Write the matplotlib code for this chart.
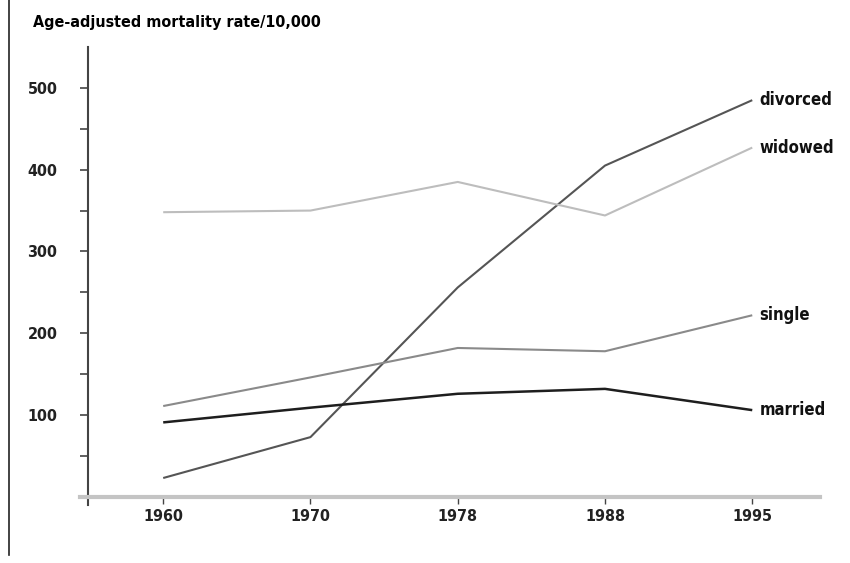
import matplotlib.pyplot as plt
from matplotlib.lines import Line2D

# Data
years = ["1960", "1970", "1978", "1988", "1995"]
divorced = [23, 73, 256, 405, 485]
widowed = [348, 350, 385, 344, 427]
single = [111, 146, 182, 178, 222]
married = [91, 109, 126, 132, 106]

series = [
    ("divorced", divorced, "#555555", 1.5),
    ("widowed", widowed, "#bdbdbd", 1.5),
    ("single", single, "#8a8a8a", 1.5),
    ("married", married, "#1e1e1e", 1.8),
]

plt.rcParams["font.family"] = ["Liberation Sans Narrow", "DejaVu Sans"]
plt.rcParams["font.stretch"] = "condensed"

fig = plt.figure(figsize=(8.5, 5.63), dpi=100)
ax = fig.add_axes([80 / 850, 1 - 505 / 563, 740 / 850, 458 / 563])

x = list(range(len(years)))
for name, vals, color, lw in series:
    ax.plot(x, vals, color=color, linewidth=lw, solid_capstyle="butt")
    ax.text(x[-1] + 0.05, vals[-1], name, fontsize=12, fontweight="bold",
            va="center", ha="left", color="#111111")

ax.set_xlim(-0.565, 4.46)
ax.set_ylim(-10, 550)

ax.spines["top"].set_visible(False)
ax.spines["right"].set_visible(False)
ax.spines["left"].set_position(("data", -0.51))
ax.spines["left"].set_color("#444444")
ax.spines["left"].set_linewidth(1.5)
ax.spines["bottom"].set_position(("data", 0))
ax.spines["bottom"].set_color("#c4c4c4")
ax.spines["bottom"].set_linewidth(3)

ax.set_yticks([100, 200, 300, 400, 500])
ax.set_yticks([50, 150, 250, 350, 450], minor=True)
ax.tick_params(axis="y", which="both", length=6, width=1.2, color="#444444",
               labelsize=11.5, pad=16)
ax.set_xticks(x)
ax.set_xticklabels(years)
ax.tick_params(axis="x", length=5, width=1, color="#444444",
               labelsize=11.5, pad=3.5)
for lab in ax.get_xticklabels() + ax.get_yticklabels():
    lab.set_fontweight("bold")
    lab.set_color("#222222")

fig.text(33 / 850, 1 - 23 / 563, "Age-adjusted mortality rate/10,000",
         fontsize=11.5, fontweight="bold", va="center", ha="left")

# left border line
fig.add_artist(Line2D([9 / 850, 9 / 850], [1.0, 1 - 555 / 563],
                      transform=fig.transFigure, color="#222222", linewidth=1.2))

fig.savefig("out.png", dpi=100)
